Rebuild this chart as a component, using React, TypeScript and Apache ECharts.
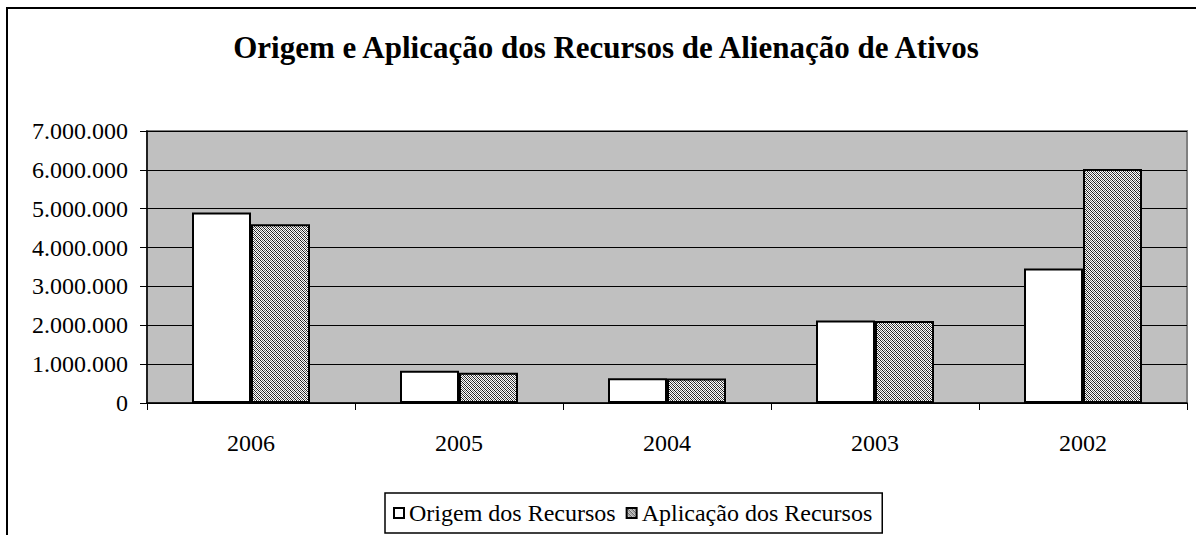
import React, { useEffect, useRef } from "react";
import * as echarts from "echarts";

const titleText = "Origem e Aplicação dos Recursos de Alienação de Ativos";
const categories = ["2006", "2005", "2004", "2003", "2002"];
const seriesNames = ["Origem dos Recursos", "Aplicação dos Recursos"];
const origem = [4900000, 830000, 640000, 2120000, 3460000];
const aplicacao = [4600000, 780000, 630000, 2110000, 6020000];
const yMin = 0;
const yMax = 7000000;
const yStep = 1000000;

const FONT = "Liberation Serif";

function fmt(v: number): string {
  return String(v).replace(/\B(?=(\d{3})+(?!\d))/g, ".");
}

function makeHatch(): HTMLCanvasElement {
  const c = document.createElement("canvas");
  c.width = 4;
  c.height = 4;
  const ctx = c.getContext("2d")!;
  ctx.fillStyle = "#ffffff";
  ctx.fillRect(0, 0, 4, 4);
  for (let x = 0; x < 4; x++) {
    for (let y = 0; y < 4; y++) {
      const d = (x - y + 8) % 4;
      if (d === 0) {
        ctx.fillStyle = "#1a1a1a";
        ctx.fillRect(x, y, 1, 1);
      } else if (d === 2) {
        ctx.fillStyle = "#707070";
        ctx.fillRect(x, y, 1, 1);
      }
    }
  }
  return c;
}

export default function App() {
  const ref = useRef<HTMLDivElement>(null);
  useEffect(() => {
    if (!ref.current) return;
    const chart = echarts.init(ref.current, undefined, { renderer: "svg" });
    const hatch = makeHatch();
    const pattern: any = { image: hatch, repeat: "repeat", imageWidth: 4, imageHeight: 4 };
    chart.setOption({
      animation: false,
      backgroundColor: "#ffffff",
      textStyle: { fontFamily: FONT },
      title: {
        text: titleText,
        left: 601,
        textAlign: "center",
        top: 27,
        textStyle: { fontFamily: FONT, fontWeight: "bold", fontSize: 31, color: "#000" },
      },
      graphic: [
        {
          type: "rect",
          shape: { x: 7, y: 8, width: 1300, height: 600 },
          style: { fill: "none", stroke: "#000", lineWidth: 2 },
          silent: true,
          z: 100,
        },
      ],
      legend: {
        left: 385,
        top: 493,
        data: seriesNames,
        icon: "rect",
        itemWidth: 10,
        itemHeight: 10,
        itemGap: 10,
        padding: [8, 10, 8, 8],
        borderColor: "#000",
        borderWidth: 1.5,
        textStyle: { fontFamily: FONT, fontSize: 24, color: "#000" },
      },
      grid: {
        left: 147,
        top: 131,
        right: 9,
        bottom: 132,
        show: true,
        backgroundColor: "#c0c0c0",
        borderColor: "#808080",
        borderWidth: 2,
      },
      xAxis: {
        type: "category",
        data: categories,
        axisLine: { show: true, lineStyle: { color: "#000", width: 1.5 } },
        axisTick: { show: true, length: 7, lineStyle: { color: "#000" } },
        axisLabel: { fontFamily: FONT, fontSize: 24, color: "#000", margin: 28 },
      },
      yAxis: {
        type: "value",
        min: yMin,
        max: yMax,
        interval: yStep,
        axisLine: { show: true, lineStyle: { color: "#000", width: 1.5 } },
        axisTick: { show: true, length: 7, lineStyle: { color: "#000" } },
        splitLine: { show: true, lineStyle: { color: "#000", width: 1 } },
        axisLabel: { fontFamily: FONT, fontSize: 24, color: "#000", margin: 19, formatter: (v: number) => fmt(v) },
      },
      series: [
        {
          name: seriesNames[0],
          type: "bar",
          data: origem,
          barWidth: 59,
          barGap: "0%",
          itemStyle: { color: "#ffffff", borderColor: "#000", borderWidth: 2 },
        },
        {
          name: seriesNames[1],
          type: "bar",
          data: aplicacao,
          barWidth: 59,
          barGap: "0%",
          itemStyle: { color: pattern, borderColor: "#000", borderWidth: 2 },
        },
      ],
    });
    return () => chart.dispose();
  }, []);
  return (
    <div
      ref={ref}
      style={{ position: "absolute", left: 0, top: 0, width: 1196, height: 535 }}
    />
  );
}
